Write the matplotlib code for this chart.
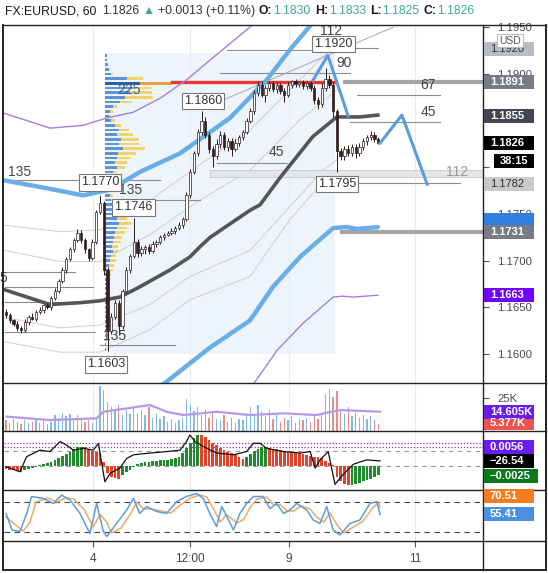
import matplotlib
matplotlib.use("Agg")
import matplotlib.pyplot as plt
import numpy as np
from matplotlib.patches import Rectangle
from matplotlib.lines import Line2D

plt.rcParams["font.family"] = ["Liberation Sans", "DejaVu Sans"]

# ---------------- data ----------------
# hourly candles, bar index 0..99
closes = [
    1.1642, 1.1636, 1.1632, 1.1628, 1.1626, 1.1634, 1.1640, 1.1638, 1.1645, 1.1647,
    1.1652, 1.1650, 1.1660, 1.1668, 1.1678, 1.1690, 1.1702, 1.1712, 1.1722, 1.1730,
    1.1722, 1.1712, 1.1703, 1.1720, 1.1752, 1.1762, 1.1690, 1.1625, 1.1640, 1.1655,
    1.1630, 1.1668, 1.1690, 1.1705, 1.1720, 1.1708, 1.1712, 1.1715, 1.1710, 1.1718,
    1.1720, 1.1725, 1.1728, 1.1730, 1.1732, 1.1735, 1.1738, 1.1745, 1.1770, 1.1795,
    1.1815, 1.1838, 1.1850, 1.1835, 1.1820, 1.1812, 1.1825, 1.1835, 1.1822, 1.1828,
    1.1820, 1.1826, 1.1832, 1.1838, 1.1850, 1.1860, 1.1880, 1.1888, 1.1878, 1.1885,
    1.1890, 1.1884, 1.1888, 1.1882, 1.1878, 1.1888, 1.1892, 1.1889, 1.1891, 1.1887,
    1.1890, 1.1885, 1.1872, 1.1868, 1.1885, 1.1895, 1.1888, 1.1860, 1.1818, 1.1812,
    1.1820, 1.1815, 1.1822, 1.1815, 1.1822, 1.1828, 1.1832, 1.1835, 1.1830, 1.1826]
first_open = 1.1645
wick_up = [3, 2, 2, 3, 2, 3, 2, 4, 2, 3,
           2, 3, 2, 3, 2, 3, 2, 3, 2, 4,
           3, 2, 2, 3, 2, 8, 2, 3, 4, 3,
           3, 2, 3, 2, 26, 3, 4, 2, 3, 3,
           2, 3, 2, 2, 3, 2, 3, 2, 4, 3,
           3, 3, 10, 4, 3, 3, 5, 4, 3, 3,
           3, 4, 3, 2, 3, 4, 3, 3, 4, 3,
           3, 2, 3, 2, 3, 3, 2, 3, 2, 3,
           2, 3, 3, 3, 5, 11, 4, 3, 3, 3,
           3, 4, 3, 3, 4, 3, 3, 4, 3, 3]
wick_dn = [3, 3, 2, 3, 4, 2, 3, 2, 3, 2,
           3, 2, 3, 2, 3, 2, 3, 2, 3, 2,
           3, 4, 3, 2, 2, 2, 5, 22, 4, 3,
           10, 3, 2, 3, 2, 4, 3, 5, 3, 2,
           3, 2, 3, 2, 2, 3, 2, 3, 2, 3,
           2, 3, 3, 4, 5, 12, 3, 4, 3, 5,
           8, 3, 3, 3, 2, 3, 3, 4, 3, 8,
           3, 3, 4, 3, 8, 3, 3, 3, 3, 3,
           3, 3, 4, 6, 3, 3, 3, 6, 23, 4,
           4, 3, 3, 5, 3, 3, 4, 3, 3, 1]
volume_k = [8, 6, 9, 7, 5, 8, 6, 7, 9, 6,
            8, 5, 7, 12, 10, 14, 11, 13, 9, 12,
            10, 7, 8, 6, 9, 34, 31, 22, 18, 15,
            20, 12, 16, 13, 18, 14, 16, 12, 18, 10,
            13, 9, 11, 7, 9, 6, 8, 10, 24, 20,
            15, 18, 12, 16, 10, 14, 9, 8, 12, 7,
            10, 6, 9, 8, 14, 18, 12, 20, 15, 11,
            16, 9, 12, 7, 10, 8, 11, 6, 9, 8,
            10, 7, 12, 9, 14, 28, 32, 26, 30, 16,
            13, 18, 11, 14, 10, 12, 9, 11, 8, 5.4]
vol_ma_bar = [0.2, 11.7, 24.1, 25.9, 38.3, 42.7, 47.2, 56.0, 64.9, 73.8, 82.6, 88.8, 99.5]
vol_ma_k = [10.9, 8.3, 9.6, 14.6, 19.7, 14.6, 12.1, 14.6, 12.1, 13.4, 12.1, 15.9, 14.6]

macd_hist = [-0.0008, -0.0010, -0.0012, -0.0015, -0.0016, -0.0012, -0.0008, -0.0005, -0.0002, 0.0002,
             0.0005, 0.0008, 0.0012, 0.0016, 0.0022, 0.0028, 0.0034, 0.0040, 0.0046, 0.0052,
             0.0054, 0.0052, 0.0046, 0.0042, 0.0040, 0.0036, 0.0010, -0.0020, -0.0030, -0.0034,
             -0.0036, -0.0025, -0.0018, -0.0010, -0.0004, 0.0005, 0.0008, 0.0010, 0.0012, 0.0014,
             0.0015, 0.0016, 0.0017, 0.0018, 0.0020, 0.0022, 0.0026, 0.0035, 0.0050, 0.0065,
             0.0078, 0.0086, 0.0085, 0.0080, 0.0072, 0.0065, 0.0058, 0.0050, 0.0045, 0.0040,
             0.0035, 0.0030, 0.0025, 0.0020, 0.0026, 0.0034, 0.0042, 0.0048, 0.0052, 0.0054,
             0.0050, 0.0048, 0.0046, 0.0044, 0.0042, 0.0040, 0.0038, 0.0037, 0.0035, 0.0033,
             0.0031, 0.0029, 0.0026, 0.0024, 0.0022, 0.0015, 0.0008, 0.0002, -0.0030, -0.0042,
             -0.0050, -0.0053, -0.0052, -0.0050, -0.0046, -0.0042, -0.0038, -0.0035, -0.0030, -0.0025]
osc_bar = [0, 3.7, 5.5, 9.0, 11.7, 14.4, 16.1, 17.9, 20.6, 23.2,
           24.6, 25.0, 26.3, 27.7, 30.3, 32.1, 33.9, 38.3, 42.7, 46.3,
           48.0, 48.9, 50.3, 52.5, 56.0, 60.5, 64.0, 65.8, 67.6, 69.3,
           73.8, 78.2, 80.9, 82.2, 83.5, 85.7, 87.5, 89.7, 92.4, 95.9, 99.5]
osc_val = [-0.0002, -0.0016, 0.0026, 0.0044, 0.0040, 0.0068, 0.0058, 0.0044, 0.0049, 0.0044,
           0.0063, 0.0036, -0.0044, -0.0020, -0.0006, 0.0021, 0.0031, 0.0036, 0.0040, 0.0044,
           0.0068, 0.0086, 0.0068, 0.0054, 0.0036, 0.0031, 0.0040, 0.0063, 0.0063, 0.0049,
           0.0040, 0.0036, 0.0040, -0.0006, 0.0017, 0.0040, -0.0051, -0.0023, 0.0005, 0.0017, 0.0014]

stoch_k_bar = [0, 1.6, 3.7, 5.5, 6.8, 9.9, 12.6, 14.8, 17.0, 19.7,
               22.3, 24.1, 25.9, 26.8, 29.4, 32.1, 33.9, 35.6, 37.4, 40.1,
               42.7, 45.4, 48.0, 50.7, 52.5, 54.2, 56.0, 57.4, 60.5, 62.2,
               64.0, 65.8, 68.4, 70.2, 72.0, 73.8, 75.5, 77.3, 80.0, 81.7,
               83.5, 85.3, 87.0, 88.8, 91.5, 94.1, 96.8, 98.6, 99.5]
stoch_k = [57, 24, 21, 57, 91, 87, 77, 94, 84, 57,
           17, 77, 21, 11, 37, 64, 87, 57, 71, 61,
           57, 81, 91, 97, 87, 57, 31, 71, 24, 57,
           77, 91, 91, 67, 77, 57, 64, 77, 64, 44,
           37, 71, 24, 14, 37, 44, 77, 81, 55]
stoch_d_bar = [0, 2.4, 4.6, 6.4, 8.0, 11.0, 13.6, 15.8, 18.0, 20.8,
               23.2, 25.0, 26.8, 28.0, 30.6, 33.0, 34.8, 36.6, 38.6, 41.2,
               43.8, 46.4, 49.0, 51.6, 53.4, 55.2, 57.0, 58.6, 61.4, 63.2,
               65.0, 66.8, 69.4, 71.2, 73.0, 74.8, 76.5, 78.4, 80.9, 82.6,
               84.5, 86.2, 88.0, 89.8, 92.4, 95.0, 97.5, 99.0, 99.5]
stoch_d = [50, 35, 22, 40, 80, 88, 80, 88, 86, 65,
           30, 55, 40, 18, 28, 55, 80, 66, 66, 62,
           58, 74, 88, 94, 90, 66, 40, 55, 38, 45,
           70, 86, 90, 74, 74, 62, 62, 72, 66, 50,
           40, 58, 35, 18, 30, 42, 68, 78, 70]

# overlays on the price panel (bar index, price)
ma_bar = [-0.5, 11.7, 19.7, 25.0, 30.3, 35.6, 43.6, 48.9, 51.6, 54.3, 64.9, 67.6, 72.9, 81.6, 88.0, 94.1, 98.9]
ma_val = [1.1669, 1.1653, 1.1655, 1.1657, 1.1661, 1.1672, 1.1690, 1.1704, 1.1715, 1.1725,
          1.1754, 1.1760, 1.1789, 1.1833, 1.1854, 1.1854, 1.1856]
bb_up_bar = [-0.5, 9.0, 20.5, 27.7, 35.6, 46.3, 59.6, 69.4, 75.5, 81.6]
bb_up_val = [1.1786, 1.1779, 1.1770, 1.1776, 1.1795, 1.1815, 1.1853, 1.1894, 1.1926, 1.1955]
bb_lo_bar = [35.6, 42.3, 48.9, 54.3, 64.9, 71.0, 78.2, 87.0, 90.7, 93.4, 98.9]
bb_lo_val = [1.1551, 1.1569, 1.1590, 1.1607, 1.1636, 1.1672, 1.1704, 1.1735, 1.1736, 1.1734, 1.1736]
env_up_bar = [-0.5, 11.7, 20.5, 26.9, 33.8, 41.0, 48.1, 54.3, 65.7]
env_up_val = [1.1858, 1.1842, 1.1845, 1.1853, 1.1859, 1.1874, 1.1894, 1.1915, 1.1953]
env_lo_bar = [62.2, 66.2, 72.1, 79.0, 87.0, 89.6, 92.3, 98.9]
env_lo_val = [1.1551, 1.1570, 1.1604, 1.1633, 1.1661, 1.1662, 1.1661, 1.1663]
thin_bars = [
    ([-0.3, 14.4, 25.0, 38.3, 51.6, 64.9, 78.2, 87.5],
     [1.1738, 1.1731, 1.1733, 1.1765, 1.1803, 1.1840, 1.1894, 1.1931]),
    ([-0.3, 14.4, 25.0, 38.3, 51.6, 64.9, 78.2, 88.0],
     [1.1711, 1.1699, 1.1699, 1.1728, 1.1765, 1.1797, 1.1851, 1.1883]),
    ([-0.3, 14.4, 25.0, 38.3, 48.9, 64.9, 84.3, 88.0],
     [1.1639, 1.1628, 1.1631, 1.1653, 1.1683, 1.1711, 1.1797, 1.1808]),
    ([-0.3, 14.4, 25.0, 38.3, 48.9, 64.9, 75.5, 87.0],
     [1.1613, 1.1602, 1.1602, 1.1626, 1.1658, 1.1683, 1.1744, 1.1797]),
]
zig1_bar = [81.6, 85.6, 91.0]
zig1_val = [1.1893, 1.1920, 1.1855]
zig2_bar = [99.5, 105.3, 112.0]
zig2_val = [1.1826, 1.1856, 1.1782]

# fixed range volume profile
profile_start, profile_end = 26.3, 87.5
profile_low, profile_high = 1.1600, 1.1922
profile_price = [1.1920, 1.1915, 1.1910, 1.1905, 1.1900, 1.1895, 1.1890, 1.1885, 1.1880, 1.1875,
                 1.1870, 1.1865, 1.1860, 1.1855, 1.1850, 1.1845, 1.1840, 1.1835, 1.1830, 1.1825,
                 1.1820, 1.1815, 1.1810, 1.1805, 1.1800, 1.1795, 1.1790, 1.1785, 1.1780, 1.1775,
                 1.1770, 1.1765, 1.1760, 1.1755, 1.1750, 1.1745, 1.1740, 1.1735, 1.1730, 1.1725,
                 1.1720, 1.1715, 1.1710, 1.1705, 1.1700, 1.1695, 1.1690, 1.1685, 1.1680, 1.1675,
                 1.1670, 1.1665, 1.1660, 1.1655, 1.1650, 1.1645, 1.1640, 1.1635, 1.1630, 1.1625,
                 1.1620, 1.1615, 1.1610, 1.1605]
profile_up = [2, 2, 3, 4, 6, 22, 35, 28, 25, 20, 15, 8, 5, 4, 6, 10, 14, 12, 16, 14,
              18, 13, 12, 10, 12, 8, 5, 4, 3, 4, 5, 6, 7, 8, 9, 12, 14, 12, 10, 9,
              8, 7, 8, 6, 5, 4, 4, 3, 3, 2, 3, 2, 2, 2, 2, 2, 2, 2, 1, 1, 1, 1, 1, 1]
profile_dn = [0, 0, 0, 1, 2, 16, 32, 18, 22, 28, 12, 4, 3, 2, 4, 6, 10, 16, 18, 20,
              22, 18, 14, 12, 8, 4, 3, 2, 2, 3, 3, 4, 5, 6, 8, 10, 12, 10, 10, 8,
              8, 6, 5, 5, 6, 5, 4, 3, 2, 2, 2, 2, 1, 1, 1, 1, 1, 1, 1, 1, 1, 1, 0, 0]
poc_price = 1.1891

# drawn level lines: start bar, end bar, price
level_start = [-0.3, 28.5, -0.3, -0.3, -0.3, -0.3, 25.0, 56.1, 58.8, 56.9, 87.0, 93.4, 91.5, 93.4]
level_end = [41.0, 51.6, 18.4, 23.1, 23.7, 23.7, 44.9, 74.7, 81.6, 91.5, 98.9, 115.4, 115.4, 120.7]
level_price = [1.1786, 1.1765, 1.1688, 1.1672, 1.1656, 1.1624, 1.1610, 1.1805, 1.1926, 1.1901,
               1.1928, 1.1878, 1.1849, 1.1783]
level_text = ["135", "135", "5", "135", "45", "90", "112", "67", "45", "225"]
level_text_bar = [3.7, 33.0, -0.8, 29.0, 72.0, 90.0, 86.5, 112.2, 112.2, 32.7]
level_text_price = [1.1795, 1.1776, 1.1681, 1.1619, 1.1816, 1.1912, 1.1946, 1.1888, 1.1859, 1.1883]

peak_labels = ["1.1920", "1.1860", "1.1770", "1.1746", "1.1603", "1.1795"]
peak_bar = [87.0, 52.4, 25.0, 33.8, 26.6, 88.0]
peak_price = [1.1932, 1.1871, 1.1784, 1.1757, 1.1589, 1.1782]

tick_pos = [23.1, 48.9, 75.3, 108.8]
tick_labels = ["4", "12:00", "9", "11"]

# ---------------- figure ----------------
W, H = 548, 573
fig = plt.figure(figsize=(W / 100, H / 100), dpi=100)
fig.patch.set_facecolor("white")


def rect(l, t, r, b):
    return [l / W, 1 - b / H, (r - l) / W, (b - t) / H]


ax = fig.add_axes(rect(4, 25, 483, 383))
axv = fig.add_axes(rect(4, 383, 483, 431), sharex=ax)
axm = fig.add_axes(rect(4, 431, 483, 490), sharex=ax)
axs = fig.add_axes(rect(4, 490, 483, 541), sharex=ax)

for a in (ax, axv, axm, axs):
    for s in a.spines.values():
        s.set_visible(False)
    a.yaxis.tick_right()
    a.tick_params(axis="y", direction="out", length=4, width=0.8, color="#555",
                  labelsize=8.2, labelcolor="#4a4a4a", pad=6)
    a.tick_params(axis="x", length=0, labelbottom=False)
    a.grid(axis="x", color="#ececec", lw=0.8)
    a.set_axisbelow(True)

ax.set_xlim(-0.53, 126.86)
ax.set_xticks(tick_pos)
axs.set_xticklabels(tick_labels)
axs.tick_params(axis="x", length=4, width=0.8, color="#555", labelbottom=True,
                labelsize=8.5, labelcolor="#444", pad=5)

# ---- price panel ----
ax.set_ylim(1.156893, 1.195251)
price_ticks = [1.160, 1.165, 1.170, 1.175, 1.180, 1.185, 1.190, 1.195]
ax.set_yticks(price_ticks)
# 1.1800 and 1.1850 sit under the value boxes in the reference
ax.set_yticklabels(["" if v in (1.180, 1.185) else "%.4f" % v for v in price_ticks])

ax.add_patch(Rectangle((profile_start, profile_low), profile_end - profile_start,
                       profile_high - profile_low, fc="#edf4fb", ec="none", zorder=0))

for bx, bv in thin_bars:
    ax.plot(bx, bv, color="#cfcfcf", lw=0.7, zorder=1)

for s, e, p in zip(level_start, level_end, level_price):
    ax.plot([s, e], [p, p], color="#8c8c8c", lw=0.8, zorder=1.5)
ax.plot([57.7, 102.9], [1.1872, 1.1950], color="#a8a8a8", lw=0.7, zorder=1.5)
ax.fill_between([54.3, 130], 1.1790, 1.1797, color="#e4e6ea", ec="#c8c8c8", lw=0.6, zorder=1.2)
ax.text(120.0, 1.1795, "112", color="#9a9a9a", fontsize=10, ha="center", va="center", zorder=2)
for t, bx, p in zip(level_text, level_text_bar, level_text_price):
    col = "#3d5a80" if t == "225" else "#444444"
    ax.text(bx, p, t, color=col, fontsize=10, ha="center", va="center", zorder=4)

# volume profile
scale = 1 / 3.76
up = np.array(profile_up) * scale
dn = np.array(profile_dn) * scale
poc = np.isclose(profile_price, 1.1890)
ax.barh(profile_price, up, left=profile_start, height=0.00030,
        color=np.where(poc, "#2d5fa6", "#5b93d6"), zorder=2)
ax.barh(profile_price, dn, left=profile_start + up, height=0.00030,
        color=np.where(poc, "#e8a040", "#f2d36b"), zorder=2)
ax.plot([profile_start + up[poc][0] + dn[poc][0], profile_end], [poc_price, poc_price],
        color="#e53935", lw=2.4, zorder=2.5)

# thick level lines at right
ax.plot([89.6, 130], [1.1891, 1.1891], color="#a5a5a5", lw=3, zorder=2, solid_capstyle="butt")
ax.plot([88.8, 130], [1.1731, 1.1731], color="#a5a5a5", lw=3, zorder=2, solid_capstyle="butt")

# bands and average
ax.plot(bb_up_bar, bb_up_val, color="#6aaee8", lw=3.2, zorder=2.6, solid_capstyle="round")
ax.plot(bb_lo_bar, bb_lo_val, color="#6aaee8", lw=3.2, zorder=2.6, solid_capstyle="round")
ax.plot(env_up_bar, env_up_val, color="#a47fdc", lw=1.0, zorder=2.6)
ax.plot(env_lo_bar, env_lo_val, color="#a47fdc", lw=1.0, zorder=2.6)
ax.plot(ma_bar, ma_val, color="#555555", lw=2.6, zorder=2.7)

# candles
idx = np.arange(len(closes))
c = np.array(closes)
o = np.array([first_open] + closes[:-1])
hi = np.maximum(o, c) + np.array(wick_up) * 0.0001
lo = np.minimum(o, c) - np.array(wick_dn) * 0.0001
rising = c >= o
ax.vlines(idx, lo, hi, color="#2b1b1b", lw=0.7, zorder=3)
body = np.maximum(np.abs(c - o), 0.00004)
ax.bar(idx, body, bottom=np.minimum(o, c), width=0.62,
       color=np.where(rising, "white", "#3b1f1f"), edgecolor="#2b1b1b", lw=0.5, zorder=3.1)

ax.plot(zig1_bar, zig1_val, color="#5b9be0", lw=2.2, zorder=3.5)
ax.plot(zig2_bar, zig2_val, color="#5b9be0", lw=2.2, zorder=3.5)

for t, bx, p in zip(peak_labels, peak_bar, peak_price):
    ax.text(bx, p, t, fontsize=9, color="#333", ha="center", va="center", zorder=6,
            bbox=dict(boxstyle="square,pad=0.18", fc="white", ec="#777", lw=0.8))

# ---- volume panel ----
axv.set_ylim(0, 36.4)
axv.set_yticks([25])
axv.set_yticklabels(["25K"])
axv.bar(idx, volume_k, width=0.35, color=np.where(rising, "#86b6e6", "#e58e8e"), zorder=2)
axv.plot(vol_ma_bar, vol_ma_k, color="#b39ae8", lw=1.6, zorder=3)

# ---- histogram / oscillator panel ----
axm.set_ylim(-0.00667, 0.00972)
axm.set_yticks([])
hist = np.array(macd_hist)
prev = np.concatenate([[hist[0] + 1], hist[:-1]])
axm.bar(idx, hist, width=0.72, color=np.where(hist >= prev, "#1f8a2e", "#e2432a"), zorder=2)
axm.plot(osc_bar, osc_val, color="#111111", lw=0.9, zorder=3)
for lvl in (0.0064, 0.0053):
    axm.axhline(lvl, color="#7b3fa8", lw=0.9, ls=(0, (1, 1.5)), zorder=1)
for lvl in (0.0042, 0.0):
    axm.axhline(lvl, color="#999999", lw=0.8, ls=(0, (4, 4)), zorder=1)

# ---- stochastic panel ----
axs.set_ylim(2, 104)
axs.set_yticks([])
axs.axhline(80, color="#444", lw=0.8, ls=(0, (5, 4)))
axs.axhline(20, color="#444", lw=0.8, ls=(0, (5, 4)))
axs.plot(stoch_d_bar, stoch_d, color="#f0a868", lw=1.1, zorder=2)
axs.plot(stoch_k_bar, stoch_k, color="#5a9ee0", lw=1.1, zorder=3)


# ---- frame ----
def fline(x0, y0, x1, y1, lw=1.0, color="#222"):
    fig.add_artist(Line2D([x0 / W, x1 / W], [1 - y0 / H, 1 - y1 / H], color=color, lw=lw, zorder=15))


fline(3, 25, 546, 25)
fline(3, 570, 546, 570, lw=1.4)
fline(3, 25, 3, 570, lw=1.4)
fline(546, 25, 546, 570, lw=1.4)
fline(483, 25, 483, 570)
for yy in (383, 431, 490, 541):
    fline(3, yy, 546, yy)


# ---- value boxes on the right axis ----
def value_box(a, value, text, bg, fg="white", weight="bold", width=50, x0=484, y_px=None):
    if y_px is None:
        yd = a.transData.transform((0, value))[1]
    else:
        yd = H - y_px
    fig.add_artist(Rectangle((x0 / W, (yd - 7) / H), width / W, 14 / H,
                             transform=fig.transFigure, fc=bg, ec="none", zorder=20))
    fig.text((x0 + 6) / W, yd / H, text, color=fg, fontsize=8, fontweight=weight,
             ha="left", va="center", zorder=21)


value_box(ax, 1.1927, "1.1920", "#b9bcc4", fg="#333", weight="normal")
value_box(ax, 1.1891, "1.1891", "#787b86")
value_box(ax, 1.1855, "1.1855", "#434651")
value_box(ax, 1.1826, "1.1826", "#000000")
value_box(ax, 0, "38:15", "#000000", width=40, x0=494, y_px=161)
value_box(ax, 1.1782, "1.1782", "#c9c9c9", fg="#333", weight="normal")
value_box(ax, 1.1744, "", "#2f7fe0")
value_box(ax, 1.1731, "1.1731", "#787b86")
value_box(ax, 1.1663, "1.1663", "#7000ff")
value_box(axv, 0, "5.377K", "#ef5350", y_px=423)
value_box(axv, 14.605, "14.605K", "#6a1cf0")
value_box(axm, 0, "0.0056", "#6a1cf0", y_px=447)
value_box(axm, 0, "\u221226.54", "#000000", y_px=461)
value_box(axm, 0, "\u22120.0025", "#087a1a", width=54, y_px=476)
value_box(axs, 0, "70.51", "#f57c20", y_px=496)
value_box(axs, 0, "55.41", "#4a90e2", y_px=514)

# USD badge
fig.add_artist(Rectangle((497 / W, 1 - 47 / H), 26 / W, 13 / H, transform=fig.transFigure,
                         fc="white", ec="#bbbbbb", lw=0.8, zorder=22))
fig.text(510 / W, 1 - 40.5 / H, "USD", color="#555", fontsize=7.5, ha="center", va="center", zorder=23)

# ---- title line ----
teal = "#3fa79a"
title_parts = [("FX:EURUSD, 60", "#131722", "normal", 6),
               ("1.1826", "#333333", "normal", 3),
               ("\u25b2", teal, "normal", 3),
               ("+0.0013 (+0.11%)", "#333333", "normal", 4),
               ("O:", "#131722", "bold", 1),
               ("1.1830", teal, "normal", 4),
               ("H:", "#131722", "bold", 1),
               ("1.1833", teal, "normal", 4),
               ("L:", "#131722", "bold", 1),
               ("1.1825", teal, "normal", 4),
               ("C:", "#131722", "bold", 1),
               ("1.1826", teal, "normal", 0)]
renderer = fig.canvas.get_renderer()
x = 5
for s, col, wt, gap in title_parts:
    t = fig.text(x / W, 1 - 11 / H, s, color=col, fontsize=8.8, fontweight=wt, ha="left", va="center")
    x += t.get_window_extent(renderer).width + gap

fig.savefig("out.png", dpi=100, facecolor="white")
